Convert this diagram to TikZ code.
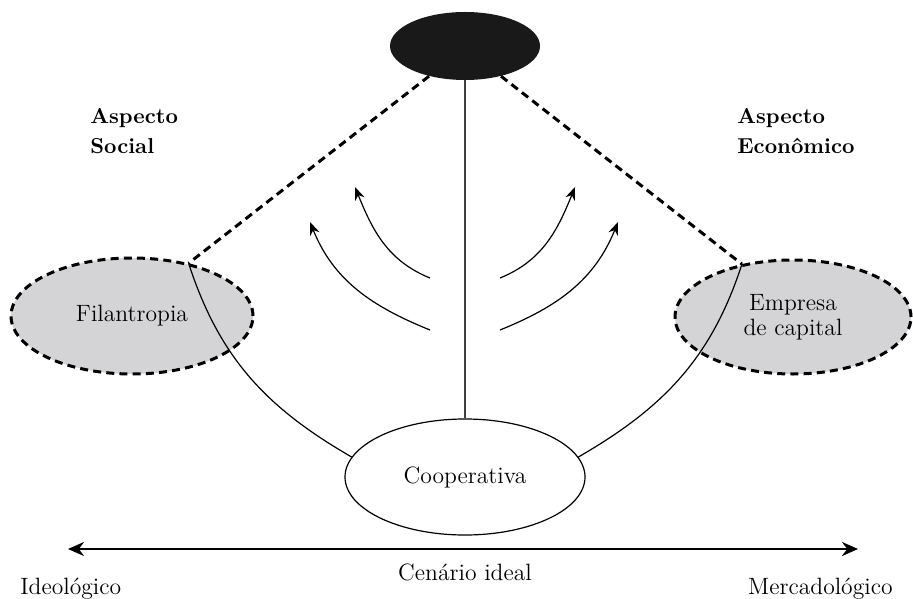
\documentclass[tikz,border=0pt]{standalone}
\usepackage{fontspec}
\usetikzlibrary{shapes.geometric,arrows.meta}
\definecolor{cinza}{RGB}{212,212,214}
\tikzset{
  tracejado/.style={line width=1.5pt, dash pattern=on 4pt off 2.6pt},
  elipse/.style={ellipse, inner sep=0pt, font=\fontsize{11.8}{12.5}\selectfont, align=center},
  seta/.style={line width=0.6pt, -{Stealth[length=6.5pt,width=5pt]}},
  rotulo/.style={font=\fontsize{11.8}{15}\selectfont, inner sep=0pt}
}
\begin{document}
\begin{tikzpicture}[x=0.5pt,y=-0.5pt]
\useasboundingbox (0,0) rectangle (913,598);
% Elipses
\node[elipse, fill=black!90, minimum width=75pt, minimum height=34pt] (topo) at (465,46) {};
\node[elipse, draw, line width=0.6pt, minimum width=120pt, minimum height=58pt] (coop) at (465,477) {Cooperativa};
\node[elipse, draw, tracejado, fill=cinza, minimum width=121pt, minimum height=58pt] (fil) at (132,316) {Filantropia};
\node[elipse, draw, tracejado, fill=cinza, minimum width=118pt, minimum height=57pt] (emp) at (793,317) {Empresa\\de capital};
% Aspectos
\node[rotulo, font=\fontsize{10.8}{15}\selectfont\bfseries, align=left, anchor=north west] (social) at (90,108) {Aspecto\\Social};
\node[rotulo, font=\fontsize{10.8}{15}\selectfont\bfseries, align=left, anchor=north west] (econ) at (737,108) {Aspecto\\Econômico};
% Ligacoes
\draw[tracejado] (topo.220) -- (fil.43);
\draw[tracejado] (topo.-40) -- (emp.134);
\draw[black!75, line width=1pt] (topo.south) -- (coop.north);
\draw[line width=0.6pt] (fil.43) to[out=-72,in=150] (coop.170);
\draw[line width=0.6pt] (emp.134) to[out=-108,in=30] (coop.10);
% Setas
\coordinate (e1) at (430,330); \coordinate (e1f) at (310,222);
\coordinate (e2) at (430,278); \coordinate (e2f) at (355,187);
\coordinate (d1) at (500,330); \coordinate (d1f) at (618,222);
\coordinate (d2) at (500,278); \coordinate (d2f) at (575,187);
\foreach \s in {1,2} {
    \draw[seta] (e\s) to[out=158,in=-68] (e\s f);
    \draw[seta] (d\s) to[out=22,in=-112] (d\s f);
}
% Eixo
\coordinate (eixoA) at (68,549);
\coordinate (eixoB) at (858,549);
\draw[line width=1.3pt, {Stealth[length=8pt,width=7pt]}-{Stealth[length=8pt,width=7pt]}] (eixoA) -- (eixoB);
\node[rotulo, anchor=base] (ideal) at (465,580) {Cenário ideal};
\node[rotulo, anchor=base west] (ideo) at (20,594) {Ideológico};
\node[rotulo, anchor=base east] (merc) at (893,594) {Mercadológico};
\end{tikzpicture}
\end{document}
